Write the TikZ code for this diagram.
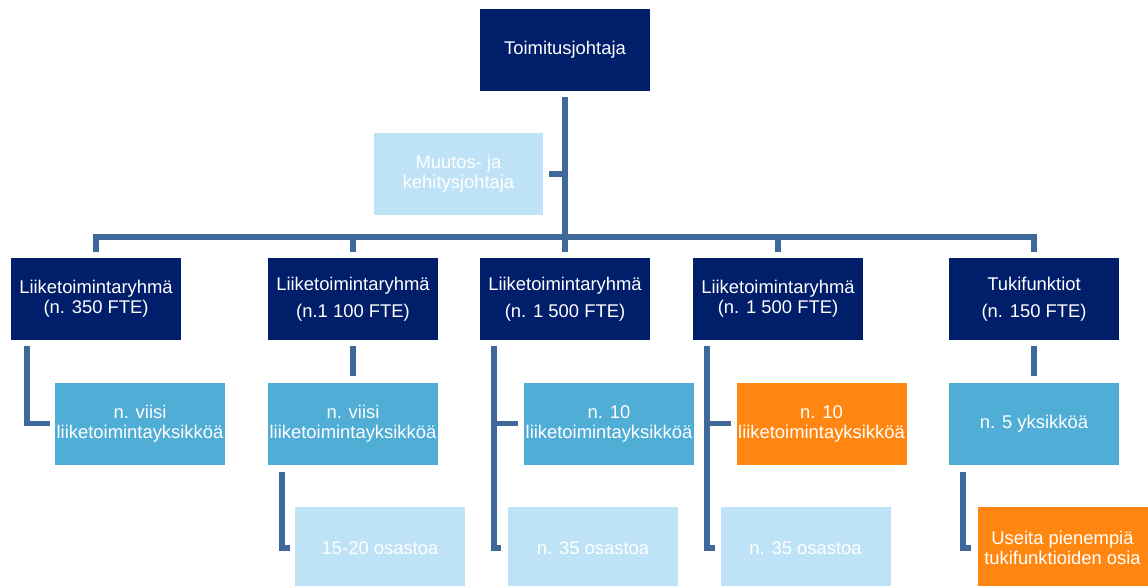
\documentclass[tikz,border=0pt]{standalone}
\usepackage{fontspec}
\setmainfont{Liberation Sans}
\usepackage{tikz}
\usetikzlibrary{calc}

\definecolor{navy}{RGB}{0,30,106}
\definecolor{midblue}{RGB}{80,173,213}
\definecolor{paleblue}{RGB}{190,227,246}
\definecolor{orangeish}{RGB}{255,135,17}
\definecolor{linkblue}{RGB}{64,105,155}

\tikzset{
  box/.style={rectangle, inner sep=0pt, minimum width=170pt, minimum height=82pt,
    text=white, align=center, font=\fontsize{18.4}{20}\selectfont},
  wide/.style={font=\fontsize{18.4}{27}\selectfont},
  lead/.style={box, fill=navy},
  unit/.style={box, fill=midblue},
  dept/.style={box, fill=paleblue},
  hot/.style={box, fill=orangeish},
  link/.style={draw=linkblue, line width=5.5pt}
}

\begin{document}
\begin{tikzpicture}[x=1pt,y=-1pt]
\useasboundingbox [fill=white] (0,0) rectangle (1148,586);
% top
\node [lead] (ceo) at (565,50) {Toimitusjohtaja};
\node [dept, minimum width=169pt] (dev) at (458.5,174) {Muutos- ja\\kehitysjohtaja};
% groups
\node [lead] (grpA) at (96,299) {Liiketoimintaryhmä\\(n. 350 FTE)};
\node [lead, wide] (grpB) at (353,299) {Liiketoimintaryhmä\\(n.1 100 FTE)};
\node [lead, wide] (grpC) at (565,299) {Liiketoimintaryhmä\\(n. 1 500 FTE)};
\node [lead] (grpD) at (778,299) {Liiketoimintaryhmä\\(n. 1 500 FTE)};
\node [lead, wide] (grpE) at (1034,299) {Tukifunktiot\\(n. 150 FTE)};
% units
\node [unit] (unitA) at (140,423.5) {n. viisi\\liiketoimintayksikköä};
\node [unit] (unitB) at (353,423.5) {n. viisi\\liiketoimintayksikköä};
\node [unit] (unitC) at (609,423.5) {n. 10\\liiketoimintayksikköä};
\node [hot] (unitD) at (821.5,423.5) {n. 10\\liiketoimintayksikköä};
\node [unit] (unitE) at (1034,423.5) {n. 5 yksikköä};
% departments
\node [dept] (deptB) at (380,548) {15-20 osastoa};
\node [dept] (deptC) at (593,548) {n. 35 osastoa};
\node [dept] (deptD) at (805.5,548) {n. 35 osastoa};
\node [hot] (deptE) at (1062.5,548) {Useita pienempiä\\tukifunktioiden osia};

\coordinate (bus) at (565,237);
\draw [link] ([yshift=-6pt]ceo.south) -- ([yshift=6pt]grpC.north);
\draw [link] ([xshift=6pt]dev.east) -- (dev.east -| ceo.south);
\draw [link] ([yshift=6pt]grpA.north) -- (grpA.north |- bus) -- (grpE.north |- bus)
  -- ([yshift=6pt]grpE.north);
\draw [link] ([yshift=6pt]grpB.north) -- (grpB.north |- bus);
\draw [link] ([yshift=6pt]grpD.north) -- (grpD.north |- bus);

\draw [link] ([xshift=16pt,yshift=-6pt]grpA.south west) |- ([xshift=-5pt]unitA.west);
\draw [link] ([yshift=-6pt]grpB.south) -- ([yshift=6pt]unitB.north);
\draw [link] ([xshift=14pt,yshift=-7pt]unitB.south west) |- ([xshift=-5pt]deptB.west);
\draw [link] ([xshift=14pt,yshift=-6pt]grpC.south west) |- ([xshift=-6pt]unitC.west)
  ([xshift=14pt,yshift=-6pt]grpC.south west) |- ([xshift=-7pt]deptC.west);
\draw [link] ([xshift=14pt,yshift=-6pt]grpD.south west) |- ([xshift=-5pt]unitD.west)
  ([xshift=14pt,yshift=-6pt]grpD.south west) |- ([xshift=-5pt]deptD.west);
\draw [link] ([yshift=-6pt]grpE.south) -- ([yshift=6pt]unitE.north);
\draw [link] ([xshift=14pt,yshift=-7pt]unitE.south west) |- ([xshift=-6pt]deptE.west);
\end{tikzpicture}
\end{document}
